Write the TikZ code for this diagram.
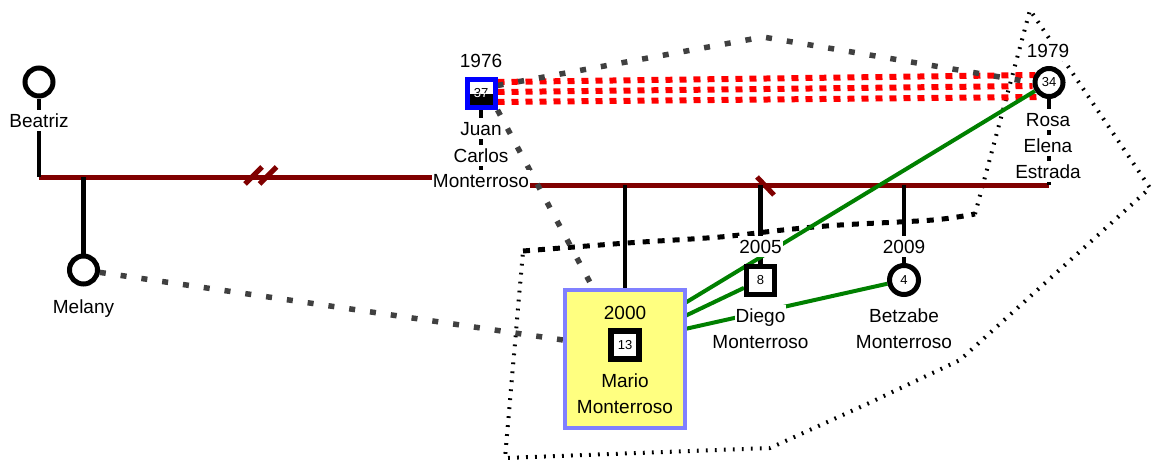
\documentclass[tikz,border=0pt]{standalone}
\usepackage{fontspec}
\setmainfont{Liberation Sans}
\usetikzlibrary{calc}
\definecolor{marr}{HTML}{800000}
\definecolor{gdash}{HTML}{404040}
\definecolor{grn}{HTML}{008000}
\definecolor{boxy}{HTML}{FFFF80}
\definecolor{boxb}{HTML}{8080FF}
\pgfdeclarelayer{bg}
\pgfsetlayers{bg,main}
\begin{document}
\begin{tikzpicture}[x=1pt,y=-1pt,
  lbl/.style={fill=white, inner sep=1pt, anchor=base, text height=16pt, text depth=3pt, font=\fontsize{19}{22}\selectfont},
  lblnf/.style={lbl, fill=none},
  num/.style={font=\fontsize{13}{15}\selectfont},
  fcirc/.style={circle, draw, line width=5pt, fill=white, minimum size=28pt, inner sep=0pt, num},
  msq/.style={rectangle, draw, line width=5pt, fill=white, minimum size=28pt, inner sep=0pt, num},
  mline/.style={marr, line width=5pt},
  kid/.style={black, line width=4.5pt},
  gd/.style={gdash, line width=5.5pt, dash pattern=on 6pt off 15pt},
  rd/.style={red, line width=6pt, dash pattern=on 7pt off 7pt},
  bd/.style={black, line width=5pt, dash pattern=on 7pt off 8pt},
  td/.style={black, line width=4pt, dash pattern=on 1.8pt off 7.2pt},
  gl/.style={grn, line width=4pt}]
\useasboundingbox (0,0) rectangle (1153,460);

% ---------- shapes ----------
\node[fcirc] (beatriz) at (39,82) {};
\node[fcirc] (melany) at (83.5,270) {};
\node[msq, draw=blue, path picture={\fill[black] (path picture bounding box.west) rectangle (path picture bounding box.south east);}] (juan) at (481,93.5) {37};
\begin{scope}
  \clip (juan.west) rectangle (juan.south east);
  \node[num, white] at (juan.center) {37};
\end{scope}
\node[fcirc] (rosa) at (1049,82.5) {34};
\node[rectangle, draw=boxb, fill=boxy, line width=4pt, minimum width=120pt, minimum height=138pt] (mario) at (625,359) {};
\node[msq, line width=5.5pt] (mariosq) at (625,345) {13};
\node[msq] (diego) at (760.5,280) {8};
\node[fcirc, minimum size=29pt] (betz) at (904,280) {4};

\coordinate (m1L) at (39,177);
\coordinate (m1R) at (481,177);
\coordinate (m2L) at (481,185);
\coordinate (m2R) at (1049,185);
\coordinate (c1) at (83.5,177);
\coordinate (c2) at (625,185);
\coordinate (c3) at (760.5,185);
\coordinate (c4) at (904,185);
\coordinate (gpeak) at (763,37);

% ---------- labels ----------
\node[lbl] (lbea) at (39,127) {Beatriz};
\node[lbl] (lmel) at (83.5,313) {Melany};
\node[lbl] (y76) at (481,67) {1976};
\node[lbl] (ljuan1) at (481,135) {Juan};
\node[lbl] (ljuan2) at (481,162) {Carlos};
\node[lbl] (ljuan3) at (481,187) {Monterroso};
\node[lbl] (y79) at (1048,57) {1979};
\node[lbl] (lrosa1) at (1048,126) {Rosa};
\node[lbl] (lrosa2) at (1048,152) {Elena};
\node[lbl] (lrosa3) at (1048,178) {Estrada};
\node[lblnf] (y00) at (625,319) {2000};
\node[lblnf] (lmar1) at (625,387) {Mario};
\node[lblnf] (lmar2) at (625,413) {Monterroso};
\node[lbl] (y05) at (760.5,253) {2005};
\node[lbl] (ldie1) at (760.5,322) {Diego};
\node[lbl] (ldie2) at (760.5,348) {Monterroso};
\node[lbl] (y09) at (904,253) {2009};
\node[lbl] (lbet1) at (904,322) {Betzabe};
\node[lbl] (lbet2) at (904,348) {Monterroso};

% ---------- connectors ----------
\begin{pgfonlayer}{bg}
  % group outlines
  \draw[td] (975,214) -- (1030,10) -- (1150,188) -- (960,360) -- (867,404) -- (770,448) -- (505,458) -- (523,251);
  \draw[bd] plot[smooth] coordinates {(523,251) (627,243) (720,237) (783,230) (840,225) (933,220) (975,214)};
  % marriages
  \draw[mline] (m1L) -- (m1R);
  \draw[mline] (m2L) -- (m2R);
  \draw[mline] (253.5,175.5) +(-8.5,8.5) -- +(8.5,-8.5);
  \draw[mline] (268,175.5) +(-8.5,8.5) -- +(8.5,-8.5);
  \draw[mline] (757,177) -- (774,195);
  % parent / child lines
  \draw[kid] (beatriz) -- (m1L);
  \draw[kid] (juan) -- (m2L);
  \draw[kid] (rosa) -- (m2R);
  \draw[kid] (c1) -- (melany);
  \draw[kid] (c2) -- (mario);
  \draw[kid] (c3) -- (diego);
  \draw[kid] (c4) -- (betz);
  % red dotted relation
  \draw[rd] ($(juan.east)+(0,-11.5)$) -- ($(rosa.west)+(3,-7.5)$);
  \draw[rd] ($(juan.east)+(0,-1.5)$) -- ($(rosa.west)+(0,3.5)$);
  \draw[rd] ($(juan.east)+(0,8.5)$) -- ($(rosa.west)+(5,14.5)$);
  % gray dashed relations
  \draw[gd] (melany) -- ($(mario.west)+(0,-19)$);
  \draw[gd] (juan.south east) -- ($(mario.north west)+(30,0)$);
  \draw[gd] ($(juan.east)+(0,-8)$) -- (gpeak) -- (rosa.west);
  % green relations
  \draw[gl] ($(mario.north east)+(-2,15)$) -- (rosa);
  \draw[gl] ($(mario.north east)+(-2,28)$) -- (diego);
  \draw[gl] ($(mario.north east)+(-2,41)$) -- (betz);
\end{pgfonlayer}
\end{tikzpicture}
\end{document}
